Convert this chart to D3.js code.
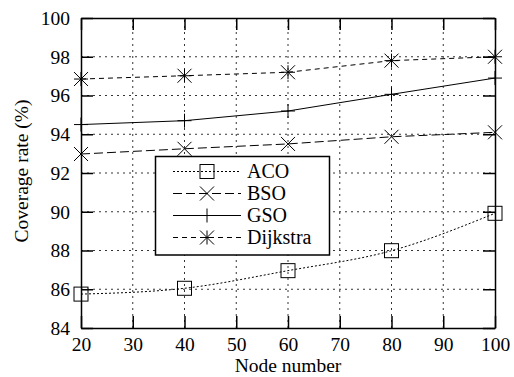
<!DOCTYPE html>
<html>
<head>
<meta charset="utf-8">
<script src="https://cdn.jsdelivr.net/npm/d3@7"></script>
</head>
<body style="margin:0;background:#fff">
<div id="chart"></div>
<script>
const nodes = [20, 40, 60, 80, 100]
const aco = [85.75, 86.05, 86.96, 87.99, 89.92]
const bso = [92.98, 93.25, 93.5, 93.87, 94.1]
const gso = [94.5, 94.7, 95.2, 96.06, 96.9]
const dijkstra = [96.85, 97.02, 97.2, 97.8, 98.0]
const xTicks = [20, 30, 40, 50, 60, 70, 80, 90, 100]
const yTicks = [84, 86, 88, 90, 92, 94, 96, 98, 100]

const width = 514
const height = 377
const margin = { top: 18, right: 19, bottom: 49, left: 81 }
const TICK = 12
const FONT = 'Liberation Serif'

const svg = d3.select('#chart').append('svg').attr('width', width).attr('height', height)
	.attr('font-family', FONT)

const x = d3.scaleLinear().domain([20, 100]).range([margin.left, width - margin.right])
const y = d3.scaleLinear().domain([84, 100]).range([height - margin.bottom, margin.top])

const series = [
	{ name: 'ACO', values: aco, dash: '2,2', marker: 'square', curve: d3.curveMonotoneX },
	{ name: 'BSO', values: bso, dash: '9,4', marker: 'x', curve: d3.curveLinear },
	{ name: 'GSO', values: gso, dash: null, marker: 'plus', curve: d3.curveLinear },
	{ name: 'Dijkstra', values: dijkstra, dash: '5,4', marker: 'star', curve: d3.curveLinear },
]

// grid
const grid = svg.append('g').attr('stroke', '#000').attr('stroke-width', 0.8).attr('stroke-dasharray', '2,4')
grid.selectAll('line.vx').data(xTicks.slice(1, -1)).join('line')
	.attr('x1', d => x(d)).attr('x2', d => x(d))
	.attr('y1', y(84)).attr('y2', y(100))
grid.selectAll('line.hy').data(yTicks.slice(1, -1)).join('line')
	.attr('y1', d => y(d)).attr('y2', d => y(d))
	.attr('x1', x(20)).attr('x2', x(100))

// axes (ticks inward on all four sides)
const fmt = d3.format('d')
svg.append('g').attr('transform', `translate(0,${y(84)})`)
	.call(d3.axisBottom(x).tickValues(xTicks).tickFormat(fmt).tickSizeInner(-TICK).tickSizeOuter(0).tickPadding(9))
svg.append('g').attr('transform', `translate(0,${y(100)})`)
	.call(d3.axisTop(x).tickValues(xTicks).tickFormat('').tickSizeInner(-TICK).tickSizeOuter(0))
svg.append('g').attr('transform', `translate(${x(20)},0)`)
	.call(d3.axisLeft(y).tickValues(yTicks).tickFormat(fmt).tickSizeInner(-TICK).tickSizeOuter(0).tickPadding(11))
svg.append('g').attr('transform', `translate(${x(100)},0)`)
	.call(d3.axisRight(y).tickValues(yTicks).tickFormat('').tickSizeInner(-TICK).tickSizeOuter(0))

svg.selectAll('.domain').attr('stroke', '#000').attr('stroke-width', 1.5)
svg.selectAll('.tick line').attr('stroke', '#000').attr('stroke-width', 1.5)
svg.selectAll('g').filter(function () { return this.hasAttribute('font-family') }).attr('font-family', FONT)
svg.selectAll('.tick text').attr('font-family', FONT).attr('font-size', 19.5).attr('fill', '#000')

// axis labels
svg.append('text').attr('x', (x(20) + x(100)) / 2).attr('y', 372)
	.attr('font-family', FONT).attr('font-size', 19.5)
	.attr('text-anchor', 'middle').text('Node number')
svg.append('text').attr('transform', `translate(28,171) rotate(-90)`)
	.attr('font-family', FONT).attr('font-size', 19.5)
	.attr('text-anchor', 'middle').text('Coverage rate (%)')

function drawMarker(g, type, cx, cy) {
	const s = 7
	const m = g.append('g').attr('transform', `translate(${cx},${cy})`)
		.attr('stroke', '#000').attr('stroke-width', 1).attr('fill', 'none')
	if (type === 'square') {
		m.append('rect').attr('x', -s).attr('y', -s).attr('width', 2 * s).attr('height', 2 * s)
	} else if (type === 'x') {
		m.append('path').attr('d', `M${-s},${-s}L${s},${s}M${-s},${s}L${s},${-s}`)
	} else if (type === 'plus') {
		m.append('path').attr('d', `M${-s},0L${s},0M0,${-s}L0,${s}`)
	} else if (type === 'star') {
		m.append('path').attr('d', `M${-s},${-s}L${s},${s}M${-s},${s}L${s},${-s}M${-s},0L${s},0M0,${-s}L0,${s}`)
	}
}

// lines
const content = svg.append('g')
series.forEach(sr => {
	const line = d3.line().x((d, i) => x(nodes[i])).y(d => y(d)).curve(sr.curve)
	content.append('path').datum(sr.values).attr('d', line)
		.attr('fill', 'none').attr('stroke', '#000').attr('stroke-width', 1)
		.attr('stroke-dasharray', sr.dash)
	sr.values.forEach((v, i) => drawMarker(content, sr.marker, x(nodes[i]), y(v)))
})

// legend
const lg = svg.append('g')
lg.append('rect').attr('x', 155.5).attr('y', 156.5).attr('width', 174).attr('height', 98.5)
	.attr('fill', '#fff').attr('stroke', '#000').attr('stroke-width', 1.5)
series.forEach((sr, i) => {
	const ly = 171.5 + i * 22
	lg.append('line').attr('x1', 173).attr('x2', 241).attr('y1', ly).attr('y2', ly)
		.attr('stroke', '#000').attr('stroke-width', 1).attr('stroke-dasharray', sr.dash)
	drawMarker(lg, sr.marker, 207, ly)
	lg.append('text').attr('x', 247).attr('y', ly + 6.5)
		.attr('font-family', FONT).attr('font-size', 20).text(sr.name)
})
</script>
</body>
</html>
